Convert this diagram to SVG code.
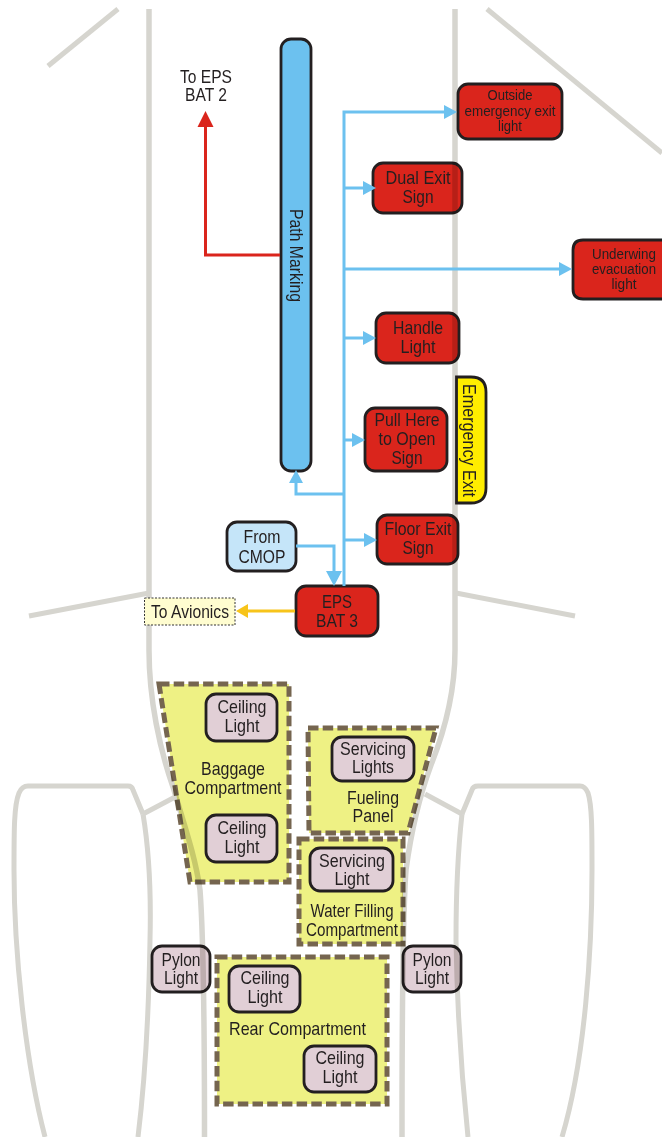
<svg xmlns="http://www.w3.org/2000/svg" width="662" height="1137" viewBox="0 0 662 1137">
<style>
text{font-family:"Liberation Sans",Arial,sans-serif;fill:#231f20;text-anchor:middle;font-size:19px}
.s{font-size:15.500px}
.u{font-size:14px}
.n{font-size:18px}
.bg{fill:none;stroke:#d6d5cf;stroke-width:5}
.f{stroke-width:5.500}
.box{stroke:#231f20;stroke-width:2.800}
.red{fill:#da251c;mix-blend-mode:multiply}
.pink{fill:#e1cfd6}
.py{mix-blend-mode:multiply}
.zone{fill:#eef184;stroke:#75654f;stroke-width:5;stroke-dasharray:10.500 4.200;mix-blend-mode:multiply}
.c{fill:none;stroke:#6cc1ef;stroke-width:3}
</style>
<defs>
<marker id="ab" markerUnits="userSpaceOnUse" markerWidth="15" markerHeight="16" refX="0" refY="8" orient="auto" overflow="visible"><path d="M0,1L13,8L0,15z" fill="#6cc1ef"/></marker>
<marker id="abL" markerUnits="userSpaceOnUse" markerWidth="16" markerHeight="18" refX="0" refY="9" orient="auto" overflow="visible"><path d="M0,1L15,9L0,17z" fill="#6cc1ef"/></marker>
<marker id="ar" markerUnits="userSpaceOnUse" markerWidth="16" markerHeight="18" refX="0" refY="9" orient="auto" overflow="visible"><path d="M0,1L16,9L0,17z" fill="#da251c"/></marker>
<marker id="ay" markerUnits="userSpaceOnUse" markerWidth="14" markerHeight="16" refX="0" refY="8" orient="auto" overflow="visible"><path d="M0,1L12,8L0,15z" fill="#f7c41a"/></marker>
</defs>
<g id="airframe">
<path class="bg f" d="M149,9V650C149,700 160,750 173,787C186,830 196,860 200,890C203,930 204.500,1000 204.500,1137"/>
<path class="bg f" d="M455,9V650C455,690 445,730 431,765C418,800 410,840 406,870C403,910 402,1000 402,1137"/>
<path class="bg" d="M48,66L118,9"/>
<path class="bg" d="M487,9L662,153"/>
<path class="bg" d="M29,616L149,593"/>
<path class="bg" d="M456,593L575,616"/>
<path class="bg" d="M143,814L133,790Q132,786 128,786H28Q22,786 19,793C14,805 14,830 14,870C14,950 25,1060 45,1137"/>
<path class="bg" d="M143,814C149,850 151,900 150,940C149,1000 145,1080 138,1137"/>
<path class="bg" d="M143,814L177,796"/>
<path class="bg" d="M462,814L472,790Q473,786 478,786H580Q585,786 588,793C592,805 592,830 592,870C592,950 585,1060 562,1137"/>
<path class="bg" d="M462,814C458,850 456,900 456,940C457,1000 462,1080 468,1137"/>
<path class="bg" d="M462,814L425,794"/>
</g>
<g id="zones">
<path class="zone" d="M159,684H289V882H190Z"/>
<path class="zone" d="M308,728H436L408,833H309Z"/>
<path class="zone" d="M299,839H403V944H299Z"/>
<path class="zone" d="M217,957H387V1104H217Z"/>
</g>
<g id="path-marking"><rect class="box" x="281" y="39" width="30" height="432" rx="10" fill="#6cc1ef"/><text transform="translate(290,209) rotate(90)" x="46.500" y="0" textLength="93" lengthAdjust="spacingAndGlyphs">Path Marking</text></g>
<g id="to-eps-bat-2"><text class="n" x="206" y="83" textLength="52" lengthAdjust="spacingAndGlyphs">To EPS</text><text class="n" x="206" y="101" textLength="42" lengthAdjust="spacingAndGlyphs">BAT 2</text></g>
<g id="outside-exit"><rect class="box red" x="458" y="84" width="104" height="55" rx="10"/><text class="s" x="510" y="100" textLength="45" lengthAdjust="spacingAndGlyphs">Outside</text><text class="s" x="510" y="116" textLength="91" lengthAdjust="spacingAndGlyphs">emergency exit</text><text class="s" x="510" y="131" textLength="24" lengthAdjust="spacingAndGlyphs">light</text></g>
<g id="dual-exit"><rect class="box red" x="373" y="163" width="89" height="50" rx="10"/><text x="418" y="184" textLength="65" lengthAdjust="spacingAndGlyphs">Dual Exit</text><text x="418" y="203" textLength="31" lengthAdjust="spacingAndGlyphs">Sign</text></g>
<g id="underwing"><path class="box red" d="M662,240H583Q573,240 573,250V289Q573,299 583,299H662"/><text class="u" x="624" y="259" textLength="64" lengthAdjust="spacingAndGlyphs">Underwing</text><text class="u" x="624" y="274" textLength="64" lengthAdjust="spacingAndGlyphs">evacuation</text><text class="u" x="624" y="289" textLength="25" lengthAdjust="spacingAndGlyphs">light</text></g>
<g id="handle-light"><rect class="box red" x="376" y="313" width="83" height="50" rx="10"/><text x="418" y="334" textLength="50" lengthAdjust="spacingAndGlyphs">Handle</text><text x="418" y="353" textLength="35" lengthAdjust="spacingAndGlyphs">Light</text></g>
<g id="pull-here"><rect class="box red" x="365" y="408" width="82" height="63" rx="10"/><text x="407" y="426" textLength="65" lengthAdjust="spacingAndGlyphs">Pull Here</text><text x="407" y="445" textLength="57" lengthAdjust="spacingAndGlyphs">to Open</text><text x="407" y="464" textLength="31" lengthAdjust="spacingAndGlyphs">Sign</text></g>
<g id="emergency-exit"><path class="box" d="M456.500,377H471Q486,377 486,392V488Q486,503 471,503H456.500Z" fill="#ffed00"/><text transform="translate(463,384) rotate(90)" x="56.500" y="0" textLength="113" lengthAdjust="spacingAndGlyphs">Emergency Exit</text></g>
<g id="floor-exit"><rect class="box red" x="377" y="515" width="81" height="49" rx="10"/><text x="418" y="535" textLength="67" lengthAdjust="spacingAndGlyphs">Floor Exit</text><text x="418" y="554" textLength="31" lengthAdjust="spacingAndGlyphs">Sign</text></g>
<g id="from-cmop"><rect class="box" x="227" y="522" width="69" height="49" rx="10" fill="#c5e5f9"/><text x="262" y="543" textLength="37" lengthAdjust="spacingAndGlyphs">From</text><text x="262" y="563" textLength="47" lengthAdjust="spacingAndGlyphs">CMOP</text></g>
<g id="eps-bat-3"><rect class="box red" x="296" y="586" width="82" height="50" rx="10"/><text x="337" y="608" textLength="30" lengthAdjust="spacingAndGlyphs">EPS</text><text x="337" y="627" textLength="42" lengthAdjust="spacingAndGlyphs">BAT 3</text></g>
<g id="to-avionics"><rect x="144.500" y="598" width="90.500" height="27" fill="#fffdd0" stroke="#333" stroke-width="1" stroke-dasharray="2 1.500"/><text x="190" y="618" textLength="78" lengthAdjust="spacingAndGlyphs">To Avionics</text></g>
<g id="baggage"><text x="233" y="775" textLength="64" lengthAdjust="spacingAndGlyphs">Baggage</text><text x="233" y="794" textLength="97" lengthAdjust="spacingAndGlyphs">Compartment</text></g>
<g id="ceiling-1"><rect class="box pink" x="206" y="694" width="71" height="47" rx="10"/><text x="242" y="713" textLength="49" lengthAdjust="spacingAndGlyphs">Ceiling</text><text x="242" y="732" textLength="35" lengthAdjust="spacingAndGlyphs">Light</text></g>
<g id="ceiling-2"><rect class="box pink" x="206" y="815" width="71" height="47" rx="10"/><text x="242" y="834" textLength="49" lengthAdjust="spacingAndGlyphs">Ceiling</text><text x="242" y="853" textLength="35" lengthAdjust="spacingAndGlyphs">Light</text></g>
<g id="servicing-lights"><rect class="box pink" x="332" y="737" width="82" height="44" rx="10"/><text class="n" x="373" y="755" textLength="66" lengthAdjust="spacingAndGlyphs">Servicing</text><text class="n" x="373" y="773" textLength="42" lengthAdjust="spacingAndGlyphs">Lights</text></g>
<g id="fueling-panel"><text class="n" x="373" y="804" textLength="52" lengthAdjust="spacingAndGlyphs">Fueling</text><text class="n" x="373" y="822" textLength="41" lengthAdjust="spacingAndGlyphs">Panel</text></g>
<g id="servicing-light"><rect class="box pink" x="310" y="848" width="83" height="43" rx="10"/><text class="n" x="352" y="867" textLength="66" lengthAdjust="spacingAndGlyphs">Servicing</text><text class="n" x="352" y="885" textLength="35" lengthAdjust="spacingAndGlyphs">Light</text></g>
<g id="water-filling"><text x="352" y="917" textLength="83" lengthAdjust="spacingAndGlyphs">Water Filling</text><text x="352" y="936" textLength="92" lengthAdjust="spacingAndGlyphs">Compartment</text></g>
<g id="pylon-left"><rect class="box pink py" x="152" y="946" width="58" height="46" rx="10"/><text class="n" x="181" y="966" textLength="39" lengthAdjust="spacingAndGlyphs">Pylon</text><text class="n" x="181" y="984" textLength="34" lengthAdjust="spacingAndGlyphs">Light</text></g>
<g id="pylon-right"><rect class="box pink py" x="403" y="946" width="58" height="46" rx="10"/><text class="n" x="432" y="966" textLength="39" lengthAdjust="spacingAndGlyphs">Pylon</text><text class="n" x="432" y="984" textLength="34" lengthAdjust="spacingAndGlyphs">Light</text></g>
<g id="ceiling-3"><rect class="box pink" x="229" y="966" width="71" height="46" rx="10"/><text x="265" y="984" textLength="49" lengthAdjust="spacingAndGlyphs">Ceiling</text><text x="265" y="1003" textLength="35" lengthAdjust="spacingAndGlyphs">Light</text></g>
<g id="rear-compartment"><text x="297.500" y="1035" textLength="137" lengthAdjust="spacingAndGlyphs">Rear Compartment</text></g>
<g id="ceiling-4"><rect class="box pink" x="304" y="1046" width="72" height="46" rx="10"/><text x="340" y="1064" textLength="49" lengthAdjust="spacingAndGlyphs">Ceiling</text><text x="340" y="1083" textLength="35" lengthAdjust="spacingAndGlyphs">Light</text></g>
<g id="connectors">
<path class="c" d="M344,586V112H444" marker-end="url(#ab)"/>
<path class="c" d="M344,188H363" marker-end="url(#ab)"/>
<path class="c" d="M344,269H559" marker-end="url(#ab)"/>
<path class="c" d="M344,338H363" marker-end="url(#ab)"/>
<path class="c" d="M344,440H352" marker-end="url(#ab)"/>
<path class="c" d="M344,540H364" marker-end="url(#ab)"/>
<path class="c" d="M344,494H296V483" marker-end="url(#ab)"/>
<path class="c" d="M296,546H334V571" marker-end="url(#abL)"/>
<path d="M280,255H205.500V127" fill="none" stroke="#da251c" stroke-width="3" marker-end="url(#ar)"/>
<path d="M295,611H248" fill="none" stroke="#f7c41a" stroke-width="3" marker-end="url(#ay)"/>
</g>
</svg>
